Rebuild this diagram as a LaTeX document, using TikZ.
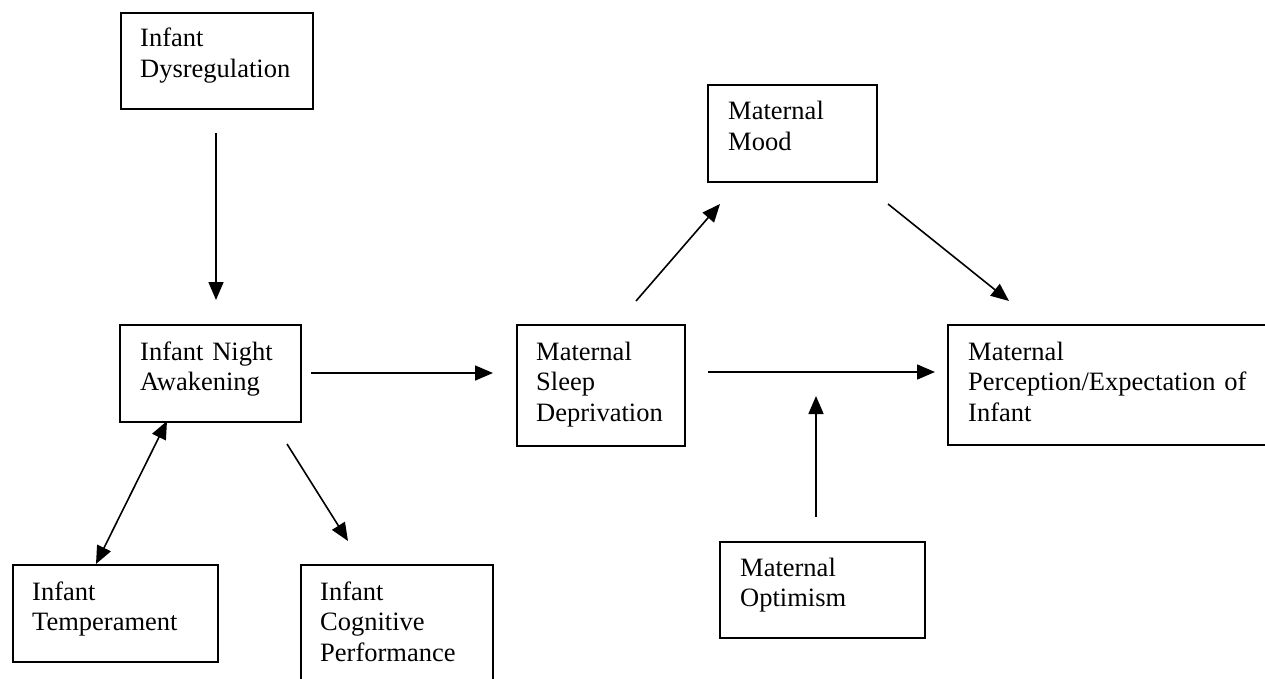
\documentclass[tikz,border=0pt]{standalone}
\usepackage{fontspec}
\setmainfont{Liberation Serif}
\usetikzlibrary{arrows.meta}
\begin{document}
\begin{tikzpicture}[x=1pt,y=-1pt,
  box/.style={draw, line width=2pt, rectangle, anchor=north west, inner sep=0pt},
  txt/.style={anchor=base west, inner sep=0pt, align=left, text width=300pt,
    font=\fontsize{26.5}{30.5}\selectfont},
  tip/.style={Triangle[length=18pt,width=15pt]},
  arr/.style={line width=1.6pt, -{Triangle[length=18pt,width=15pt]}},
  darr/.style={line width=1.6pt, {Triangle[length=18pt,width=15pt]}-{Triangle[length=18pt,width=15pt]}}]
\useasboundingbox (0,0) rectangle (1265,679);
\clip (0,0) rectangle (1265,679);
% boxes
\node[box, minimum width=192pt, minimum height=96pt] (dys) at (120,12) {};
\node[box, minimum width=181pt, minimum height=97pt] (night) at (119,324) {};
\node[box, minimum width=168pt, minimum height=121pt] (sleep) at (516,324) {};
\node[box, minimum width=169pt, minimum height=97pt] (mood) at (707,84) {};
\node[box, minimum width=340pt, minimum height=120pt] (perc) at (947,324) {};
\node[box, minimum width=205pt, minimum height=96pt] (opt) at (719,541) {};
\node[box, minimum width=205pt, minimum height=97pt] (temp) at (12,564) {};
\node[box, minimum width=192pt, minimum height=140pt] (cog) at (300,564) {};
% texts
\node[txt] (dyst) at ([xshift=20pt,yshift=-35pt]dys.north west) {Infant\\Dysregulation};
\node[txt] (nightt) at ([xshift=21pt,yshift=-36pt]night.north west) {Infant Night\\Awakening};
\node[txt] (sleept) at ([xshift=20pt,yshift=-36pt]sleep.north west) {Maternal\\Sleep\\Deprivation};
\node[txt] (moodt) at ([xshift=21pt,yshift=-36pt]mood.north west) {Maternal\\Mood};
\node[txt] (perct) at ([xshift=21pt,yshift=-36pt]perc.north west) {Maternal\\Perception/Expectation of\\Infant};
\node[txt] (optt) at ([xshift=21pt,yshift=-35pt]opt.north west) {Maternal\\Optimism};
\node[txt] (tempt) at ([xshift=20pt,yshift=-36pt]temp.north west) {Infant\\Temperament};
\node[txt] (cogt) at ([xshift=20pt,yshift=-36pt]cog.north west) {Infant\\Cognitive\\Performance};
% connector end points
\coordinate (a1s) at (216,133);
\coordinate (a1e) at (216,300);
\coordinate (a2s) at (311,373);
\coordinate (a2e) at (493,373);
\coordinate (a3s) at (636,301);
\coordinate (a3e) at (720,204);
\coordinate (a4s) at (888,204);
\coordinate (a4e) at (1009,301);
\coordinate (a5s) at (708,372);
\coordinate (a5e) at (935,372);
\coordinate (a6s) at (816,517);
\coordinate (a6e) at (816,396);
\coordinate (a7s) at (96,564);
\coordinate (a7e) at (167,421);
\coordinate (a8s) at (287,444);
\coordinate (a8e) at (348,541);
% connectors
\draw[arr] (a1s) -- (a1e);
\draw[arr] (a2s) -- (a2e);
\draw[arr] (a3s) -- (a3e);
\draw[arr] (a4s) -- (a4e);
\draw[arr] (a5s) -- (a5e);
\draw[arr] (a6s) -- (a6e);
\draw[darr] (a7s) -- (a7e);
\draw[arr] (a8s) -- (a8e);
\end{tikzpicture}
\end{document}
